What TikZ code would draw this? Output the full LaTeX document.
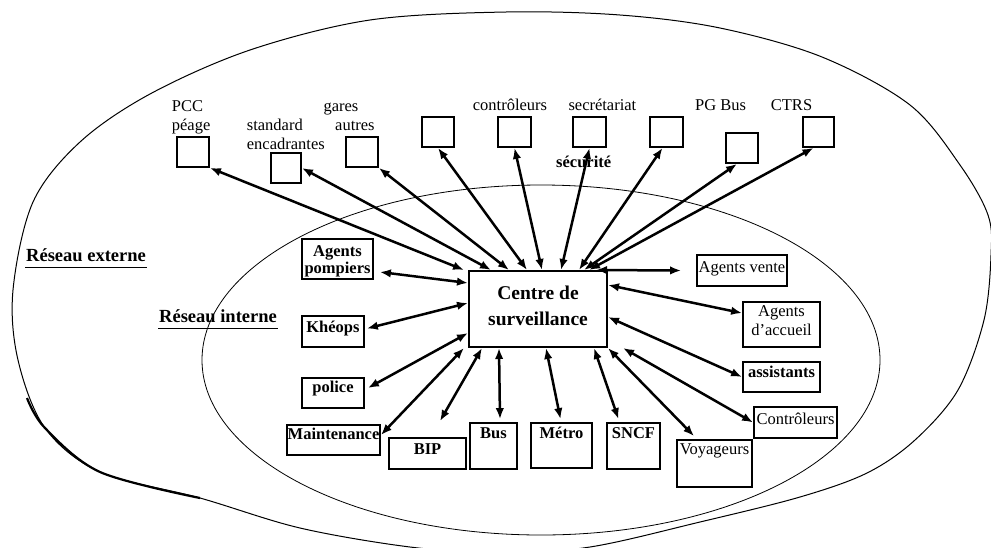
\documentclass[tikz,border=0pt]{standalone}
\usepackage{fontspec}
\setmainfont{Liberation Serif}
\usetikzlibrary{arrows.meta,calc}
\begin{document}
\begin{tikzpicture}[x=1pt,y=-1pt,
  rect/.style={draw, line width=1.8pt, inner sep=0pt},
  sq/.style={rect, minimum width=32pt, minimum height=30pt},
  tx/.style={anchor=base, inner sep=0pt, font=\fontsize{16.5}{18}\selectfont},
  txb/.style={anchor=base, inner sep=0pt, font=\fontsize{16.5}{18}\selectfont\bfseries},
  txc/.style={anchor=base, inner sep=0pt, font=\fontsize{19.5}{22}\selectfont\bfseries},
  toplbl/.style={anchor=base west, inner sep=0pt, font=\fontsize{16.5}{18}\selectfont},
  reslbl/.style={anchor=base west, inner sep=0pt, font=\fontsize{18.5}{20}\selectfont\bfseries},
  conn/.style={line width=2.5pt, {Latex[length=11pt,width=8.5pt]}-{Latex[length=11pt,width=8.5pt]}},
  ring/.style={line width=1pt},
  ring2/.style={line width=0.8pt}]
\useasboundingbox (0,0) rectangle (991,547);
\fill[white] (0,0) rectangle (991,547);

% outer and inner networks
\draw[ring] plot[smooth cycle, tension=0.55] coordinates {(506,12) (620,15) (720,28) (822,57) (910,105) (960,165) (988,215) (991,255) (984,320) (958,390) (915,440) (867,473) (800,497) (700,522) (590,547) (500,553) (410,547) (300,528) (200,498) (100,472) (45,428) (18,360) (13,290) (33,202) (80,142) (150,94) (250,50) (370,20)};
\draw[line width=2.2pt] plot[smooth, tension=0.55] coordinates {(27,398) (45,428) (100,472) (200,498)};
\draw[ring2] (541,360) ellipse [x radius=339pt, y radius=175pt];

% labels of the networks
\node[reslbl] (rext) at (26,261) {Réseau externe};
\node[reslbl] (rint) at (159,322) {Réseau interne};
\draw[line width=0.8pt] ($(rext.base west)+(-1,6)$) -- ($(rext.base east)+(1,6)$);
\draw[line width=0.8pt] ($(rint.base west)+(-1,6)$) -- ($(rint.base east)+(1,6)$);

% centre
\node[rect, line width=2pt, minimum width=138pt, minimum height=76pt,
  label={[txc,yshift=-29.7pt]north:Centre de},
  label={[txc,yshift=-55pt]north:surveillance}] (c) at (538,309) {};

% external boxes
\node[sq] (pcc) at (193,152) {};
\node[sq, minimum width=30pt] (std) at (286,168) {};
\node[sq] (gar) at (362,152) {};
\node[sq] (b4) at (438,132) {};
\node[sq, minimum width=33pt] (ctl) at (514.5,132) {};
\node[sq, minimum width=33pt] (sec) at (589.5,132) {};
\node[sq, minimum width=33pt] (b7) at (666.5,132) {};
\node[sq] (pgb) at (742,148) {};
\node[sq, minimum width=31pt] (ctrs) at (818.5,132) {};

\node[toplbl] (lpcc) at (171.7,111.7) {PCC};
\node[toplbl] (lpea) at (171.7,130) {péage};
\node[toplbl] (lstd) at (246.7,130) {standard};
\node[toplbl] (lenc) at (246.7,149) {encadrantes};
\node[toplbl] (lgar) at (323.3,111.7) {gares};
\node[toplbl] (laut) at (335,130) {autres};
\node[toplbl] (lctl) at (472.7,110.5) {contrôleurs};
\node[toplbl] (lsec) at (568.3,110.7) {secrétariat};
\node[toplbl] (lpgb) at (695,110.7) {PG Bus};
\node[toplbl] (lctr) at (770.7,110.7) {CTRS};
\node[toplbl, font=\fontsize{16.5}{18}\selectfont\bfseries] (lsecu) at (556,167) {sécurité};

% internal boxes
\node[rect, minimum width=71pt, minimum height=40pt,
  label={[txb,yshift=-18.3pt]north:Agents},
  label={[txb,yshift=-35pt]north:pompiers}] (pomp) at (337.5,259) {};
\node[rect, minimum width=62pt, minimum height=31pt,
  label={[txb,yshift=-17pt]north:Khéops}] (khe) at (333,331.5) {};
\node[rect, minimum width=62pt, minimum height=30pt,
  label={[txb,yshift=-15.5pt]north:police}] (pol) at (333,393) {};
\node[rect, minimum width=93pt, minimum height=30pt,
  label={[txb,yshift=-15pt]north:Maintenance}] (mai) at (333.5,440) {};
\node[rect, minimum width=77pt, minimum height=31pt,
  label={[txb,yshift=-17pt]north:BIP}] (bip) at (427.5,453.5) {};
\node[rect, minimum width=47pt, minimum height=46pt,
  label={[txb,yshift=-16.5pt]north:Bus}] (bus) at (493.5,446) {};
\node[rect, minimum width=61pt, minimum height=45pt,
  label={[txb,yshift=-16.5pt]north:Métro}] (met) at (561.5,445.5) {};
\node[rect, minimum width=53pt, minimum height=46pt,
  label={[txb,yshift=-16.5pt]north:SNCF}] (sncf) at (633.5,446) {};
\node[rect, minimum width=75pt, minimum height=47pt,
  label={[tx,yshift=-15pt]north:Voyageurs}] (voy) at (714.5,463.5) {};
\node[rect, minimum width=83pt, minimum height=31pt,
  label={[tx,yshift=-18pt]north:Contrôleurs}] (ctlr) at (795.5,422.5) {};
\node[rect, minimum width=77pt, minimum height=30pt,
  label={[txb,yshift=-16pt]north:assistants}] (ass) at (781.5,377) {};
\node[rect, minimum width=77pt, minimum height=45pt,
  label={[tx,yshift=-15.3pt]north:Agents},
  label={[tx,yshift=-34pt]north:d’accueil}] (acc) at (781.5,324.5) {};
\node[rect, minimum width=90pt, minimum height=31pt,
  label={[tx,yshift=-18pt]north:Agents vente}] (ven) at (742,270.5) {};

% connectors to the external network
\draw[conn] ($(c.north west)+(-4,0)$) -- (pcc.south east);
\draw[conn] ($(c.north west)+(23,0)$) -- (std.east);
\draw[conn] ($(c.north west)+(41,0)$) -- (gar.south east);
\draw[conn] ($(c.north west)+(59,0)$) -- (b4.south);
\draw[conn] ($(c.north west)+(74,0)$) -- (ctl.south);
\draw[conn] ($(c.north west)+(93,0)$) -- (sec.south);
\draw[conn] ($(c.north west)+(111,0)$) -- ($(b7.south)+(-4,0)$);
\draw[conn] ($(c.north west)+(116,0)$) -- ($(pgb.south)+(-5,0)$);
\draw[conn] ($(c.north west)+(121,0)$) -- ($(ctrs.south)+(-5,0)$);

% connectors to the internal network
\draw[conn] ($(c.north east)+(-12,0)$) -- ($(ven.west)+(-15,0)$);
\draw[conn] ($(c.north east)+(0,15)$) -- ($(acc.north west)+(0,12)$);
\draw[conn] ($(c.east)+(0,8)$) -- (ass.west);
\draw[conn] ($(c.south east)+(15,0)$) -- (ctlr.west);
\draw[conn] (c.south east) -- ($(voy.north west)+(18,-3)$);
\draw[conn] ($(c.south east)+(-14,0)$) -- ($(sncf.north)+(-15,-3)$);
\draw[conn] ($(c.south west)+(78,0)$) -- ($(met.north)+(-1,-3)$);
\draw[conn] ($(c.south west)+(31,0)$) -- ($(bus.north)+(6.5,-3)$);
\draw[conn] ($(c.south west)+(14,0)$) -- ($(bip.north)+(12.5,-16)$);
\draw[conn] ($(c.south west)+(-4,0)$) -- ($(mai.east)+(0,-5)$);
\draw[conn] ($(c.west)+(0,24)$) -- ($(pol.east)+(3,-5)$);
\draw[conn] ($(c.west)+(0,-6)$) -- ($(khe.east)+(2,-3)$);
\draw[conn] ($(c.north west)+(0,13)$) -- ($(pomp.east)+(6,13)$);
\end{tikzpicture}
\end{document}
